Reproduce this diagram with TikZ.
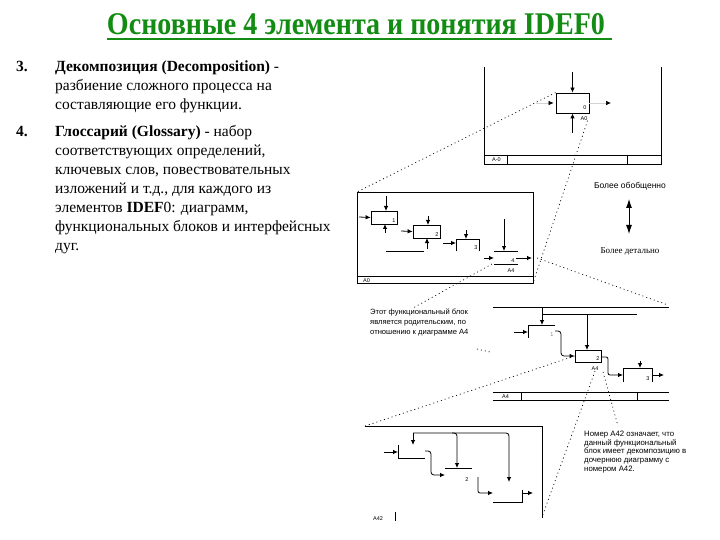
\documentclass[tikz,border=0pt]{standalone}
\usepackage{fontspec}
\setmainfont{Liberation Serif}
\newfontfamily\sansf{Liberation Sans}
\usetikzlibrary{arrows.meta}
\definecolor{titlegreen}{RGB}{18,140,18}
\tikzset{
  body/.style={anchor=base west,inner sep=0pt,font=\fontsize{15.5}{18}\selectfont},
  dline/.style={line width=0.8pt},
  arr/.style={line width=0.8pt,-{Latex[length=5pt,width=4.5pt]}},
  arrg/.style={line width=0.6pt,draw=gray!35,-{Latex[length=5pt,width=4.5pt,color=black]}},
  dotl/.style={line width=0.7pt,dash pattern=on 1pt off 3pt},
  tiny/.style={font=\sansf\fontsize{5.5}{6}\selectfont,inner sep=0pt},
  note/.style={anchor=north west,align=left,inner sep=0pt},
  blk/.style={draw,line width=0.8pt,inner sep=0pt}
}
\begin{document}
\begin{tikzpicture}[x=1pt,y=-1pt]
\useasboundingbox (0,0) rectangle (720,540);
% title
\node[anchor=base,inner sep=0pt,text=titlegreen] (title) at (356,35)
  {\resizebox{498pt}{21pt}{\bfseries Основные 4 элемента и понятия IDEF0}};
\draw[titlegreen,line width=2pt] (107,39.5) -- (612,39.5);
% body text
\node[body] (n3) at (16,72) {\bfseries 3.};
\node[body] (l1) at (55,72) {\bfseries Декомпозиция (Decomposition) \mdseries -};
\node[body] (l2) at (55,91) {разбиение сложного процесса на};
\node[body] (l3) at (55,110) {составляющие его функции.};
\node[body] (n4) at (16,137) {\bfseries 4.};
\node[body] (l4) at (55,137) {\bfseries Глоссарий (Glossary) \mdseries - набор};
\node[body] (l5) at (55,156) {соответствующих определений,};
\node[body] (l6) at (55,175) {ключевых слов, повествовательных};
\node[body] (l7) at (55,194) {изложений и т.д., для каждого из};
\node[body] (l8) at (55,213) {элементов \textbf{IDEF}0: диаграмм,};
\node[body] (l9) at (55,232) {функциональных блоков и интерфейсных};
\node[body] (l10) at (55,251) {дуг.};

% ---------- diagram 1 (A-0)
\draw[dline] (484,67) -- (484,164) -- (661,164) -- (661,67);
\draw[dline] (484,155) -- (661,155);
\draw[dline] (507,155) -- (507,164);
\draw[dline] (627,155) -- (627,164);
\node[tiny,anchor=base west] (a0lab) at (492,162) {A-0};
\node[blk,minimum width=33pt,minimum height=20pt] (b0) at (572.5,103) {};
\node[tiny] (b0n) at (585,108) {0};
\node[tiny] (b0a) at (584,118.5) {A0};
\coordinate (c0) at (572.5,72);
\coordinate (m0) at (572.5,133);
\coordinate (i0) at (536,103);
\coordinate (o0) at (611,103);
\draw[arr] (c0) -- (b0.north);
\draw[arr] (m0) -- (b0.south);
\draw[arrg] (i0) -- ([xshift=-2pt]b0.west);
\draw[arrg] (b0.east) -- (o0);

% ---------- diagram 2 (A0)
\coordinate (d2tl) at (357,192);
\coordinate (d2br) at (533,283);
\draw[dline] (d2tl) rectangle (d2br);
\draw[dline] (357,276) -- (533,276);
\node[tiny,anchor=base west] (a0b) at (363,282) {A0};
\node[blk,minimum width=26pt,minimum height=13pt] (b21) at (384,217.5) {};
\node[tiny] at (394,221) {1};
\draw[arr] (386,196) -- (386,211);
\draw[arr] (359,217) -- (b21.west);
\draw[arr] (385,233) -- (385,224);
\node[blk,minimum width=27pt,minimum height=13pt] (b22) at (426.5,231.5) {};
\node[tiny] at (437,235) {2};
\draw[arr] (428,216) -- (428,225);
\draw[arr] (401,231) -- (b22.west);
\draw[arr] (427,249) -- (427,238);
\draw[dline] (386,251) -- (424,251);
\draw[dline] (456,251) -- (456,239) -- (479,239) -- (479,251);
\node[tiny] at (476,248) {3};
\draw[arr] (466,230) -- (466,239);
\draw[arr] (443,243) -- (456,243);
\draw[dline] (494,251) -- (518,251);
\draw[dline] (494,264) -- (518,264);
\node[tiny] at (513,260.5) {4};
\draw[arr] (504,219) -- (504,251);
\draw[arr] (484,258) -- (494,258);
\draw[arr] (516,258) -- (532,258);
\node[tiny] at (511,270.5) {A4};

% ---------- diagram 3 (A4)
\draw[dline] (493,307) -- (669,307);
\draw[dline] (493,392) -- (669,392);
\draw[dline] (493,400) -- (669,400);
\draw[dline] (521,392) -- (521,400);
\draw[dline] (637,392) -- (637,400);
\node[tiny,anchor=base west] (a4lab) at (502,398.5) {A4};
\draw[dline] (542,314) -- (637,314);
\draw[arr] (542,307) -- (542,325);
\draw[arr] (587,314) -- (587,350);
\draw[dline] (555,325) -- (528,325) -- (528,338);
\node[tiny,text=gray] at (552,335) {1};
\draw[arr] (514,332) -- (528,332);
\node[blk,minimum width=26pt,minimum height=12pt] (b32) at (588,356) {};
\node[tiny] at (598,359) {2};
\node[tiny] (b32a) at (595,369) {A4};
\draw[arr,rounded corners=3pt] (555,331) -- (561,331) -- (561,356) -- (b32.west);
\draw[arr,rounded corners=2pt] (601,357) -- (608,357) -- (608,375) -- (623,375);
\draw[dline] (623,382) -- (623,368) -- (652,368) -- (652,382);
\node[tiny] at (648,379) {3};
\draw[arr] (640,361) -- (640,368);
\draw[arr] (652,375) -- (664,375);

% ---------- diagram 4 (A42)
\draw[dline] (365,426) -- (542,426) -- (542,518);
\node[tiny,anchor=base west] (a42lab) at (373,520) {A42};
\draw[dline] (395,512) -- (395,521);
\draw[arr,rounded corners=3pt] (413,433) -- (509,433) -- (509,482);
\draw[arr] (413,433) -- (413,445);
\draw[arr,rounded corners=3pt] (452,433) -- (457,433) -- (457,468);
\draw[dline] (398,445) -- (398,458) -- (425,458);
\draw[arr] (384,452) -- (398,452);
\draw[arr,rounded corners=3pt] (425,451) -- (431,451) -- (431,475) -- (445,475);
\draw[dline] (445,468) -- (472,468);
\node[tiny] at (467,480) {2};
\draw[arr,rounded corners=2pt] (478,477) -- (478,493) -- (493,493);
\draw[dline] (493,502) -- (522,502) -- (522,490);
\draw[arr] (522,493) -- (533,493);

% ---------- dotted leaders
\draw[dotl] (b0.north west) -- (d2tl);
\draw[dotl] (b0a.south east) -- (d2br);
\draw[dotl] (492,264) -- (413,308);
\draw[dotl] (537,258) -- (668,305);
\draw[dotl] (b32.west) -- (365,426);
\draw[dotl] (b32a.south) -- (542,517);
\draw[dotl] (603,372) -- (618,426);
\draw[dotl] (477,349) -- (490,352);

% ---------- notes
\node[anchor=base,inner sep=0pt,font=\sansf\fontsize{8.5}{10}\selectfont] (gen) at (630,189) {Более обобщенно};
\node[anchor=base,inner sep=0pt,font=\fontsize{9}{10}\selectfont] (det) at (630,253) {Более детально};
\draw[line width=0.9pt,{Latex[length=9pt,width=6pt]}-{Latex[length=9pt,width=6pt]}] (629,199) -- (629,234);
\node[note,font=\sansf\fontsize{7.6}{10}\selectfont] (t1) at (370,309) {Этот функциональный блок\\является родительским, по\\отношению к диаграмме A4};
\node[note,font=\sansf\fontsize{7.8}{8.6}\selectfont] (t2) at (584,431) {Номер A42 означает, что\\данный функциональный\\блок имеет декомпозицию в\\дочернюю диаграмму с\\номером A42.};
\end{tikzpicture}
\end{document}
